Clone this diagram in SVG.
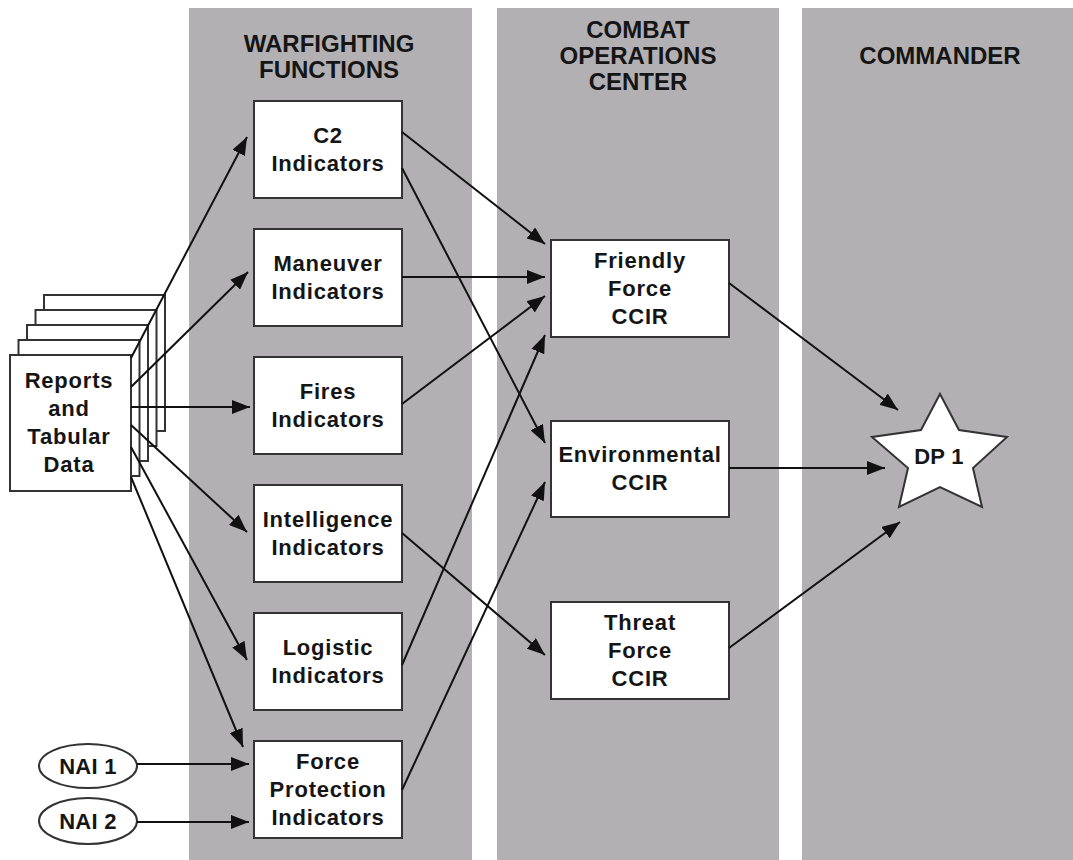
<svg xmlns="http://www.w3.org/2000/svg" width="1073" height="860" viewBox="0 0 1073 860">
<style>
.col{fill:#b2b0b3}
.box{fill:#fff;stroke:#333;stroke-width:2}
.sheet{fill:#fff;stroke:#333;stroke-width:2}
.t{font-family:"Liberation Sans",Arial,sans-serif;font-weight:bold;font-size:22px;letter-spacing:0.8px;fill:#151515;text-anchor:middle}
.h{font-family:"Liberation Sans",Arial,sans-serif;font-weight:bold;font-size:24px;fill:#151515;text-anchor:middle}
.c line{stroke:#111;stroke-width:2;marker-end:url(#ah)}
</style>
<defs>
<marker id="ah" viewBox="0 0 18 14" refX="18" refY="7" markerWidth="18" markerHeight="14" markerUnits="userSpaceOnUse" orient="auto">
<path d="M0,0 L18,7 L0,14 z" fill="#111"/>
</marker>
</defs>
<rect width="1073" height="860" fill="#fff"/>
<g id="columns">
<rect class="col" x="189" y="8" width="283" height="852"/>
<rect class="col" x="497" y="8" width="282" height="852"/>
<rect class="col" x="802" y="8" width="271" height="852"/>
</g>
<g id="headers">
<text class="h" x="329" y="52">WARFIGHTING</text>
<text class="h" x="329" y="78">FUNCTIONS</text>
<text class="h" x="638" y="38">COMBAT</text>
<text class="h" x="638" y="64">OPERATIONS</text>
<text class="h" x="638" y="90">CENTER</text>
<text class="h" x="940" y="64">COMMANDER</text>
</g>
<g id="reports">
<rect class="sheet" x="44" y="295" width="121" height="136"/>
<rect class="sheet" x="35.5" y="310" width="121" height="136"/>
<rect class="sheet" x="27" y="325" width="121" height="136"/>
<rect class="sheet" x="18.5" y="340" width="121" height="136"/>
<rect class="sheet" x="10" y="355" width="121" height="136"/>
<text class="t" x="69" y="388">Reports</text>
<text class="t" x="69" y="416">and</text>
<text class="t" x="69" y="444">Tabular</text>
<text class="t" x="69" y="472">Data</text>
</g>
<g id="nai1">
<ellipse cx="88" cy="766" rx="49" ry="22" fill="#fff" stroke="#333" stroke-width="2"/>
<text class="t" x="88" y="774" style="letter-spacing:0.3px">NAI 1</text>
</g>
<g id="nai2">
<ellipse cx="88" cy="821" rx="49" ry="23" fill="#fff" stroke="#333" stroke-width="2"/>
<text class="t" x="88" y="829" style="letter-spacing:0.3px">NAI 2</text>
</g>
<g id="c2">
<rect class="box" x="254" y="101" width="148" height="97"/>
<text class="t" x="328" y="143">C2</text>
<text class="t" x="328" y="171">Indicators</text>
</g>
<g id="maneuver">
<rect class="box" x="254" y="229" width="148" height="97"/>
<text class="t" x="328" y="271">Maneuver</text>
<text class="t" x="328" y="299">Indicators</text>
</g>
<g id="fires">
<rect class="box" x="254" y="357" width="148" height="97"/>
<text class="t" x="328" y="399">Fires</text>
<text class="t" x="328" y="427">Indicators</text>
</g>
<g id="intelligence">
<rect class="box" x="254" y="485" width="148" height="97"/>
<text class="t" x="328" y="527">Intelligence</text>
<text class="t" x="328" y="555">Indicators</text>
</g>
<g id="logistic">
<rect class="box" x="254" y="613" width="148" height="97"/>
<text class="t" x="328" y="655">Logistic</text>
<text class="t" x="328" y="683">Indicators</text>
</g>
<g id="forceprotection">
<rect class="box" x="254" y="741" width="148" height="97"/>
<text class="t" x="328" y="769">Force</text>
<text class="t" x="328" y="797">Protection</text>
<text class="t" x="328" y="825">Indicators</text>
</g>
<g id="friendly">
<rect class="box" x="551" y="240" width="178" height="97"/>
<text class="t" x="640" y="268">Friendly</text>
<text class="t" x="640" y="296">Force</text>
<text class="t" x="640" y="324">CCIR</text>
</g>
<g id="environmental">
<rect class="box" x="551" y="421" width="178" height="96"/>
<text class="t" x="640" y="462">Environmental</text>
<text class="t" x="640" y="490">CCIR</text>
</g>
<g id="threat">
<rect class="box" x="551" y="602" width="178" height="97"/>
<text class="t" x="640" y="630">Threat</text>
<text class="t" x="640" y="658">Force</text>
<text class="t" x="640" y="686">CCIR</text>
</g>
<g id="dp1">
<polygon points="940,394 959,430 1007,437 973,468 982,507 940,487 899,507 908,468 872,437 921,430" fill="#fff" stroke="#333" stroke-width="2"/>
<text class="t" x="939" y="464" style="letter-spacing:0.3px">DP 1</text>
</g>
<g id="connectors" class="c">
<line x1="131" y1="358" x2="247" y2="137"/>
<line x1="131" y1="387" x2="248" y2="272"/>
<line x1="131" y1="407" x2="250" y2="407"/>
<line x1="131" y1="425" x2="247" y2="532"/>
<line x1="131" y1="447" x2="247" y2="660"/>
<line x1="131" y1="477" x2="243" y2="747"/>
<line x1="137" y1="764" x2="249" y2="764"/>
<line x1="137" y1="822" x2="249" y2="822"/>
<line x1="402" y1="132" x2="545" y2="244"/>
<line x1="402" y1="168" x2="545" y2="443"/>
<line x1="402" y1="277" x2="545" y2="277"/>
<line x1="402" y1="404" x2="545" y2="296"/>
<line x1="402" y1="533" x2="545" y2="655"/>
<line x1="402" y1="665" x2="545" y2="335"/>
<line x1="402" y1="790" x2="545" y2="482"/>
<line x1="729" y1="283" x2="898" y2="410"/>
<line x1="729" y1="468" x2="885" y2="468"/>
<line x1="729" y1="648" x2="900" y2="522"/>
</g>
</svg>
